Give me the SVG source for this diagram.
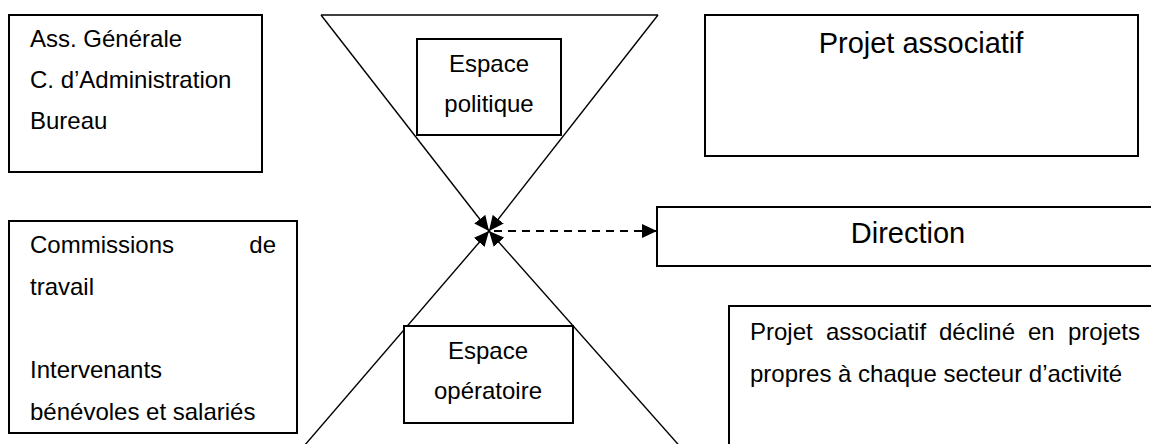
<svg xmlns="http://www.w3.org/2000/svg" width="1151" height="444" viewBox="0 0 1151 444">
<style>
  .box { fill: #ffffff; stroke: #000000; stroke-width: 2; }
  .t { font-family: "Liberation Sans", Arial, sans-serif; font-size: 24px; fill: #000000; }
  .big { font-family: "Liberation Sans", Arial, sans-serif; font-size: 29px; fill: #000000; }
  .c { text-anchor: middle; }
  .e { text-anchor: end; }
  .ln { fill: none; stroke: #000000; stroke-width: 1.4; }
  .dash { fill: none; stroke: #000000; stroke-width: 2; stroke-dasharray: 8 6; }
</style>
<defs>
  <marker id="ah" viewBox="0 0 15 14" refX="15" refY="7" markerWidth="15" markerHeight="14" markerUnits="userSpaceOnUse" orient="auto">
    <path d="M0,0 L15,7 L0,14 Z" fill="#000000"/>
  </marker>
</defs>
<rect width="1151" height="444" fill="#ffffff"/>

<g id="connectors">
  <line class="ln" x1="321" y1="15" x2="658" y2="15"/>
  <line class="ln" x1="321" y1="15" x2="489" y2="231" marker-end="url(#ah)"/>
  <line class="ln" x1="658" y1="15" x2="489" y2="231" marker-end="url(#ah)"/>
  <line class="ln" x1="292" y1="460" x2="489" y2="231" marker-end="url(#ah)"/>
  <line class="ln" x1="692" y1="460" x2="489" y2="231" marker-end="url(#ah)"/>
  <line class="dash" x1="494" y1="231" x2="657" y2="231" marker-end="url(#ah)"/>
</g>

<g id="node-instances">
  <rect class="box" x="9" y="15" width="253" height="157"/>
  <text class="t" x="30" y="47">Ass. Générale</text>
  <text class="t" x="30" y="88">C. d’Administration</text>
  <text class="t" x="30" y="129">Bureau</text>
</g>

<g id="node-espace-politique">
  <rect class="box" x="417" y="39" width="144" height="96"/>
  <text class="t c" x="489" y="72">Espace</text>
  <text class="t c" x="489" y="112">politique</text>
</g>

<g id="node-projet-associatif">
  <rect class="box" x="705" y="15" width="433" height="141"/>
  <text class="big c" x="921" y="53">Projet associatif</text>
</g>

<g id="node-commissions">
  <rect class="box" x="9" y="221" width="288" height="212"/>
  <text class="t" x="30" y="253">Commissions</text>
  <text class="t e" x="276" y="253">de</text>
  <text class="t" x="30" y="295">travail</text>
  <text class="t" x="30" y="378">Intervenants</text>
  <text class="t" x="30" y="420">bénévoles et salariés</text>
</g>

<g id="node-direction">
  <rect class="box" x="657" y="207" width="502" height="59"/>
  <text class="big c" x="908" y="243">Direction</text>
</g>

<g id="node-espace-operatoire">
  <rect class="box" x="404" y="326" width="169" height="97"/>
  <text class="t c" x="488" y="359">Espace</text>
  <text class="t c" x="488" y="399">opératoire</text>
</g>

<g id="node-projets-secteurs">
  <rect class="box" x="729" y="306" width="440" height="160"/>
  <text class="t" x="750" y="340">Projet</text>
  <text class="t" x="826" y="340">associatif</text>
  <text class="t" x="939" y="340">décliné</text>
  <text class="t" x="1028" y="340">en</text>
  <text class="t e" x="1140" y="340">projets</text>
  <text class="t" x="750" y="382">propres à chaque secteur d’activité</text>
</g>
</svg>
